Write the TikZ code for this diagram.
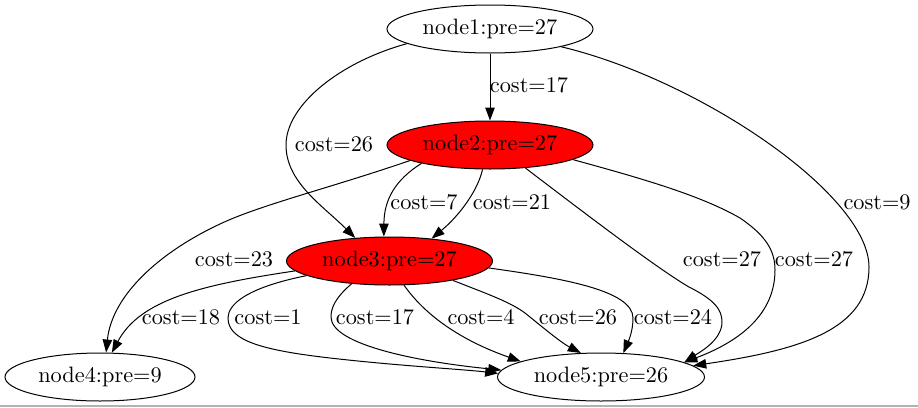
\documentclass[tikz,border=0pt]{standalone}
\usepackage{fontspec}
\setmainfont{lmroman10-regular}[Extension=.otf]
\usetikzlibrary{arrows.meta,shapes.geometric}
\begin{document}
\begin{tikzpicture}[x=1pt,y=-1pt,
  gnode/.style={draw=black,ellipse,line width=1pt,inner sep=0pt,minimum height=48pt,font=\fontsize{22.3}{26}\selectfont},
  hot/.style={fill=red},
  elabel/.style={inner sep=0pt,font=\fontsize{22.3}{26}\selectfont},
  edge/.style={draw=black,line width=1pt,-{Triangle[length=13pt,width=9.5pt]}}]
\useasboundingbox (0,0) rectangle (918,407);
\draw[gray!60,line width=2pt] (0,406) -- (918,406);
\node[gnode,minimum width=206pt] (n1) at (490,29) {node1:pre=27};
\node[gnode,hot,minimum width=206pt] (n2) at (490,145) {node2:pre=27};
\node[gnode,hot,minimum width=206pt] (n3) at (389.5,261) {node3:pre=27};
\node[gnode,minimum width=190pt] (n4) at (100,377) {node4:pre=9};
\node[gnode,minimum width=207pt] (n5) at (601,377) {node5:pre=26};
% edges
\draw[edge] (n1) -- (n2);
\draw[edge] (n1.190) .. controls (340,62) and (286,105) .. (286,145) .. controls (286,182) and (322,205) .. (n3.146);
\draw[edge] (n1.346) .. controls (700,80) and (869,195) .. (869,267) .. controls (869,330) and (800,350) .. (n5.7);
\draw[edge] (n2.195) .. controls (395,180) and (384,200) .. (n3.103);
\draw[edge] (n2.253) .. controls (478,190) and (460,215) .. (n3.28);
\draw[edge] (n2.191) .. controls (330,188) and (260,205) .. (220,224) .. controls (160,252) and (112,295) .. (n4.76);
\draw[edge] (n2.327) .. controls (600,225) and (660,270) .. (689,287) .. controls (715,300) and (722,310) .. (722,322) .. controls (722,340) and (700,352) .. (n5.10);
\draw[edge] (n2.350) .. controls (640,178) and (700,195) .. (740,218) .. controls (765,235) and (775,250) .. (775,270) .. controls (775,320) and (730,345) .. (n5.10);
\draw[edge] (n3.186) .. controls (200,285) and (140,300) .. (n4.64);
\draw[edge] (n3.190) .. controls (245,288) and (228,305) .. (228,318) .. controls (228,340) and (260,350) .. (330,358) .. controls (400,366) and (460,369) .. (n5.178);
\draw[edge] (n3.211) .. controls (335,298) and (331,308) .. (331,317) .. controls (331,345) and (420,362) .. (n5.176);
\draw[edge] (n3.301) .. controls (425,315) and (460,340) .. (n5.169);
\draw[edge] (n3.343) .. controls (490,295) and (510,302) .. (525,313) .. controls (540,325) and (560,342) .. (n5.130);
\draw[edge] (n3.356) .. controls (560,278) and (633,290) .. (633,318) .. controls (633,332) and (628,342) .. (n5.47);
% labels
\node[elabel] (l12) at (529,85) {cost=17};
\node[elabel] (l13) at (334,144) {cost=26};
\node[elabel] (l15) at (877,202) {cost=9};
\node[elabel] (l23a) at (424,202) {cost=7};
\node[elabel] (l23b) at (512,202) {cost=21};
\node[elabel] (l24) at (234,259) {cost=23};
\node[elabel] (l25a) at (722,259) {cost=27};
\node[elabel] (l25b) at (814,259) {cost=27};
\node[elabel] (l34) at (181,317) {cost=18};
\node[elabel] (l35a) at (268,317) {cost=1};
\node[elabel] (l35b) at (375,317) {cost=17};
\node[elabel] (l35c) at (481,317) {cost=4};
\node[elabel] (l35d) at (578,317) {cost=26};
\node[elabel] (l35e) at (673,317) {cost=24};
\end{tikzpicture}
\end{document}
